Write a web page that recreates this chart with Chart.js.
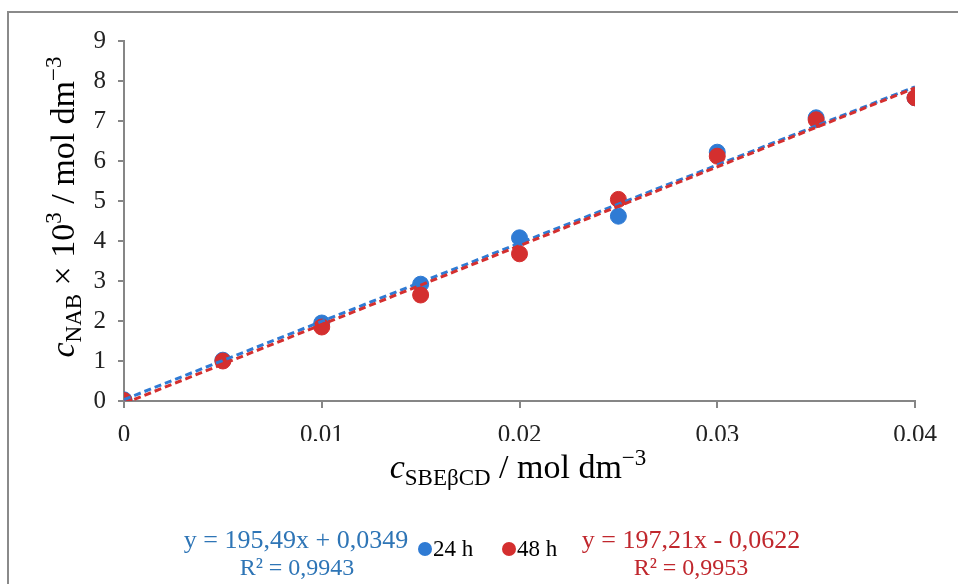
<!DOCTYPE html>
<html>
<head>
<meta charset="utf-8">
<script src="https://cdn.jsdelivr.net/npm/chart.js@4"></script>
<style>
  html, body { margin: 0; padding: 0; background: #fff; }
  #wrap { width: 958px; height: 584px; position: relative; }
</style>
</head>
<body>
<div id="wrap"><canvas id="chart" width="958" height="584"></canvas></div>
<script>
// concentrations of SBEbCD (x) and NAB (y, x10^3)
const conc = [0, 0.005, 0.01, 0.015, 0.02, 0.025, 0.03, 0.035, 0.04];
const nab24 = [0.03, 1.02, 1.95, 2.92, 4.08, 4.62, 6.22, 7.08, 7.58];
const nab48 = [0.01, 1.00, 1.85, 2.65, 3.68, 5.04, 6.12, 7.03, 7.58];

// trendline end points (x = 0 and x = 0.04)
const trendX = [0, 0.04];
const trend24 = [0.035, 7.855];
const trend48 = [-0.062, 7.826];

const eq24 = ['y = 195,49x + 0,0349', 'R² = 0,9943'];
const eq48 = ['y = 197,21x - 0,0622', 'R² = 0,9953'];
const seriesNames = ['24 h', '48 h'];

const blue = '#2f7bd4';
const red = '#d42f2f';
const blueText = '#2e75b6';
const redText = '#c0272d';
const axisGray = '#868686';

const toPoints = (xs, ys) => xs.map((x, i) => ({ x: x, y: ys[i] }));

// draws text pieces with sub/superscripts in a row, centered at (cx, cy)
function drawRich(ctx, parts, cx, cy) {
    let total = 0;
    parts.forEach(p => { ctx.font = p.font; total += ctx.measureText(p.text).width; });
    let x = cx - total / 2;
    ctx.textAlign = 'left';
    ctx.textBaseline = 'alphabetic';
    parts.forEach(p => {
        ctx.font = p.font;
        ctx.fillText(p.text, x, cy + (p.dy || 0));
        x += ctx.measureText(p.text).width;
    });
}

const serif = '"Liberation Serif", "Times New Roman", serif';
const big = '34px ' + serif;
const bigItalic = 'italic 34px ' + serif;
const small = '23px ' + serif;

const extras = {
    id: 'extras',
    afterDraw(chart) {
        const ctx = chart.ctx;
        ctx.save();

        // outer frame
        ctx.strokeStyle = '#8a8a8a';
        ctx.lineWidth = 2;
        ctx.strokeRect(8, 12, 1000, 700);

        ctx.fillStyle = '#000';
        // x axis title
        drawRich(ctx, [
            { text: 'c', font: bigItalic },
            { text: 'SBEβCD', font: small, dy: 7 },
            { text: ' / mol dm', font: big },
            { text: '−3', font: small, dy: -13 }
        ], 518, 478);

        // y axis title
        ctx.save();
        ctx.translate(74, 207);
        ctx.rotate(-Math.PI / 2);
        drawRich(ctx, [
            { text: 'c', font: bigItalic },
            { text: 'NAB', font: small, dy: 7 },
            { text: ' × 10', font: big },
            { text: '3', font: small, dy: -13 },
            { text: ' / mol dm', font: big },
            { text: '−3', font: small, dy: -13 }
        ], 0, 0);
        ctx.restore();

        // legend
        ctx.font = '23px ' + serif;
        ctx.textBaseline = 'middle';
        ctx.textAlign = 'left';
        [[425, blue], [509, red]].forEach((item, i) => {
            ctx.fillStyle = item[1];
            ctx.beginPath();
            ctx.arc(item[0], 549, 7, 0, Math.PI * 2);
            ctx.fill();
            ctx.fillStyle = '#000';
            ctx.fillText(seriesNames[i], item[0] + 8, 550);
        });

        // trendline equations
        ctx.textAlign = 'center';
        ctx.font = '26px ' + serif;
        ctx.fillStyle = blueText;
        ctx.fillText(eq24[0], 296, 541);
        ctx.fillStyle = redText;
        ctx.fillText(eq48[0], 691, 541);
        ctx.font = '24px ' + serif;
        ctx.fillStyle = blueText;
        ctx.fillText(eq24[1], 297, 569);
        ctx.fillStyle = redText;
        ctx.fillText(eq48[1], 691, 569);

        ctx.restore();
    }
};

new Chart(document.getElementById('chart'), {
    type: 'scatter',
    data: {
        datasets: [
            {
                type: 'line',
                label: 'trend 48 h',
                data: toPoints(trendX, trend48),
                borderColor: red,
                borderWidth: 3,
                borderDash: [7, 4],
                pointRadius: 0,
                fill: false,
                order: 0
            },
            {
                type: 'line',
                label: 'trend 24 h',
                data: toPoints(trendX, trend24),
                borderColor: blue,
                borderWidth: 3,
                borderDash: [7, 4],
                pointRadius: 0,
                fill: false,
                order: 0
            },
            {
                label: seriesNames[0],
                data: toPoints(conc, nab24),
                backgroundColor: blue,
                borderColor: blue,
                pointRadius: 8,
                order: 2
            },
            {
                label: seriesNames[1],
                data: toPoints(conc, nab48),
                backgroundColor: red,
                borderColor: red,
                pointRadius: 8,
                order: 1
            }
        ]
    },
    options: {
        responsive: false,
        animation: false,
        layout: { padding: { top: 41, right: 43, bottom: 143, left: 0 } },
        plugins: {
            legend: { display: false },
            tooltip: { enabled: false }
        },
        scales: {
            x: {
                type: 'linear',
                min: 0,
                max: 0.04,
                afterFit: s => { s.height = 40; },
                ticks: {
                    stepSize: 0.01,
                    padding: 12,
                    color: '#222',
                    font: { family: serif, size: 25 },
                    callback: v => {
                        const r = Math.round(v * 100) / 100;
                        return r === 0 ? '0' : r.toFixed(2).replace('.', ',');
                    }
                },
                grid: { drawOnChartArea: false, tickLength: 7, color: axisGray, lineWidth: 2 },
                border: { color: axisGray, width: 2 }
            },
            y: {
                min: 0,
                max: 9,
                afterFit: s => { s.width = 124; },
                ticks: {
                    stepSize: 1,
                    padding: 12,
                    color: '#222',
                    font: { family: serif, size: 25 }
                },
                grid: { drawOnChartArea: false, tickLength: 6, color: axisGray, lineWidth: 2 },
                border: { color: axisGray, width: 2 }
            }
        }
    },
    plugins: [extras]
});
</script>
</body>
</html>
